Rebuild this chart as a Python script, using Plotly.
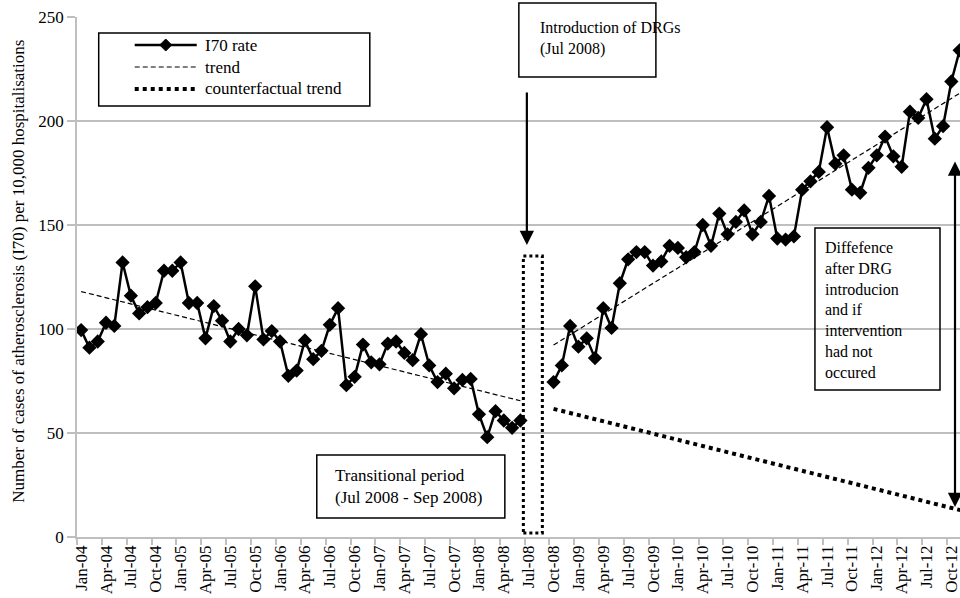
import plotly.graph_objects as go

# ---------------- data ----------------
MONTH_NAMES = ["Jan", "Feb", "Mar", "Apr", "May", "Jun", "Jul", "Aug", "Sep", "Oct", "Nov", "Dec"]
YEARS = ["04", "05", "06", "07", "08", "09", "10", "11", "12"]
month_labels = [f"{m}-{y}" for y in YEARS for m in MONTH_NAMES]  # Jan-04 .. Dec-12

# I70 rate, Jan-04 .. Jun-08 (pre-intervention)
rate_pre = [99.5, 91, 94, 103, 101.5, 132, 116, 107.5, 110.5, 112.5, 128, 128,
            132, 112.5, 112.5, 95.5, 111, 104, 94, 100, 97, 120.5, 95, 99,
            94, 77.5, 80, 94.5, 85.5, 89.5, 102, 110, 73, 77, 92.5, 84,
            83, 93, 94, 88.5, 85, 97.5, 82.5, 74.5, 78.5, 71.5, 75.5, 76,
            59, 48, 60.5, 56, 52.5, 56]
# transitional period Jul-08 .. Sep-08 (no values)
rate_transition = [None, None, None]
# I70 rate, Oct-08 .. Nov-12 (post-intervention)
rate_post = [74.5, 82.5, 101.5,
             91.5, 95.5, 86, 110, 100.5, 122, 133.5, 137, 137, 130.5, 132.5, 140,
             139, 134.5, 137, 150, 140, 155.5, 145.5, 151.5, 157, 145.5, 151.5, 164,
             143.5, 143, 144.5, 167, 171, 175.5, 197, 179.5, 183.5, 167, 165.5, 177.5,
             183.5, 192.5, 183, 178, 204.5, 201.5, 210.5, 191.5, 197.5, 219, 234]
rate = rate_pre + rate_transition + rate_post
rate_months = list(range(len(rate)))

trend_pre_months = [0, 53]
trend_pre_values = [118, 65.5]
trend_post_months = [57, 107]
trend_post_values = [92.3, 215.8]
cf_months = [57, 107]
cf_values = [61.6, 12]

tick_months = list(range(0, 106, 3))
tick_labels = [month_labels[i] for i in tick_months]
y_ticks = [0, 50, 100, 150, 200, 250]

legend_names = ["I70 rate", "trend", "counterfactual trend"]

# ---------------- layout helpers (page pixel coords) ----------------
W, H = 960, 598
L, R, T, B = 77.3, 960, 17, 537          # plot area in pixels
PW, PH = R - L, B - T
MONTH_PX = 8.285


def px(xp):
    return (xp - L) / PW


def py(yp):
    return (B - yp) / PH


FONT = "Liberation Serif"
GRID = "#bfbfbf"

fig = go.Figure()

fig.add_trace(go.Scatter(
    x=rate_months, y=rate, name=legend_names[0], mode="lines+markers",
    line=dict(color="black", width=2.5),
    marker=dict(symbol="diamond", size=11, color="black"),
    connectgaps=False,
))
fig.add_trace(go.Scatter(
    x=trend_pre_months, y=trend_pre_values, name=legend_names[1], mode="lines",
    line=dict(color="black", width=1.2, dash="5px,3px"),
))
fig.add_trace(go.Scatter(
    x=trend_post_months, y=trend_post_values, name=legend_names[1], mode="lines",
    line=dict(color="black", width=1.2, dash="5px,3px"),
))
fig.add_trace(go.Scatter(
    x=cf_months, y=cf_values, name=legend_names[2], mode="lines",
    line=dict(color="black", width=4, dash="dot"),
))

shapes = []
annotations = []

# ----- legend (drawn as frame + samples + text) -----
shapes.append(dict(type="rect", xref="paper", yref="paper",
                   x0=px(99), x1=px(370), y0=py(106), y1=py(33),
                   line=dict(color="black", width=1.5)))
row_y = [45, 67, 89]
styles = [dict(color="black", width=2.5),
          dict(color="black", width=1.2, dash="5px,3px"),
          dict(color="black", width=4, dash="dot")]
for name, yy, st in zip(legend_names, row_y, styles):
    shapes.append(dict(type="line", xref="paper", yref="paper",
                       x0=px(135), x1=px(197), y0=py(yy), y1=py(yy), line=st))
    annotations.append(dict(xref="paper", yref="paper", x=px(203), y=py(yy),
                            xanchor="left", yanchor="middle", showarrow=False, text=name,
                            font=dict(family=FONT, size=17, color="black")))
# diamond of the first legend sample
cx, cy, hs = 166, 45, 6
shapes.append(dict(type="path", xref="paper", yref="paper",
                   path=(f"M {px(cx)},{py(cy - hs)} L {px(cx + hs)},{py(cy)} "
                         f"L {px(cx)},{py(cy + hs)} L {px(cx - hs)},{py(cy)} Z"),
                   fillcolor="black", line=dict(color="black", width=1)))

# ----- Introduction of DRGs box -----
shapes.append(dict(type="rect", xref="paper", yref="paper",
                   x0=px(519), x1=px(656), y0=py(77), y1=py(3),
                   line=dict(color="black", width=1.5)))
annotations.append(dict(xref="paper", yref="paper", x=px(538), y=py(39),
                        xanchor="left", yanchor="middle", align="left", showarrow=False,
                        text="Introduction of DRGs<br>(Jul 2008)",
                        font=dict(family=FONT, size=16, color="black")))
# DRG arrow (down)
annotations.append(dict(x=53.78, y=140.4, ax=53.78, ay=214.4, axref="x", ayref="y",
                        xref="x", yref="y", text="", showarrow=True,
                        arrowhead=2, arrowsize=1.3, arrowwidth=2.2, arrowcolor="black"))

# ----- transitional period box -----
shapes.append(dict(type="rect", xref="paper", yref="paper",
                   x0=px(317), x1=px(505), y0=py(518), y1=py(455),
                   line=dict(color="black", width=1.5)))
annotations.append(dict(xref="paper", yref="paper", x=px(333), y=py(486),
                        xanchor="left", yanchor="middle", align="left", showarrow=False,
                        text="Transitional period<br>(Jul 2008 - Sep 2008)",
                        font=dict(family=FONT, size=17, color="black")))
# dotted transitional rectangle
shapes.append(dict(type="rect", xref="paper", yref="paper",
                   x0=px(523.5), x1=px(542.5), y0=py(533), y1=py(256),
                   line=dict(color="black", width=3, dash="dot")))

# ----- difference box -----
shapes.append(dict(type="rect", xref="paper", yref="paper",
                   x0=px(815), x1=px(940), y0=py(390), y1=py(228),
                   line=dict(color="black", width=1.5)))
annotations.append(dict(xref="paper", yref="paper", x=px(823), y=py(310),
                        xanchor="left", yanchor="middle", align="left", showarrow=False,
                        text="Diffefence<br>after DRG<br>introducion<br>and if<br>intervention<br>had not<br>occured",
                        font=dict(family=FONT, size=16, color="black")))
# double arrow
annotations.append(dict(x=105.44, y=14.4, ax=105.44, ay=181.3, axref="x", ayref="y",
                        xref="x", yref="y", text="", showarrow=True, arrowside="end+start",
                        arrowhead=2, arrowsize=1.3, arrowwidth=2.2, arrowcolor="black"))

# ----- y axis title -----
annotations.append(dict(xref="paper", yref="paper", x=0, y=0.5, xshift=18 - L, yshift=6,
                        xanchor="center", yanchor="middle", textangle=-90, showarrow=False,
                        text="Number of cases of atherosclerosis (I70) per 10,000 hospitalisations",
                        font=dict(family=FONT, size=17, color="black")))

fig.update_layout(
    template="none",
    width=W, height=H,
    margin=dict(l=L, r=W - R, t=T, b=H - B, autoexpand=False),
    paper_bgcolor="white", plot_bgcolor="white",
    font=dict(family=FONT, size=17, color="black"),
    showlegend=False,
    shapes=shapes, annotations=annotations,
    xaxis=dict(range=[-0.5, PW / MONTH_PX - 0.5],
               tickmode="array", tickvals=tick_months, ticktext=tick_labels,
               tickangle=-90, ticks="", showgrid=False, zeroline=False,
               showline=True, linecolor=GRID, linewidth=1.5, automargin=False,
               ticklabeloverflow="allow",
               tickfont=dict(family=FONT, size=17, color="black"),
               minor=dict(tick0=-0.5, dtick=3, ticks="outside", ticklen=6,
                          tickcolor=GRID, tickwidth=1.5, showgrid=False)),
    yaxis=dict(range=[0, 250], tickmode="array", tickvals=y_ticks,
               showgrid=True, gridcolor=GRID, gridwidth=2, zeroline=False,
               showline=True, linecolor=GRID, linewidth=1.5, automargin=False,
               ticklabeloverflow="allow",
               ticks="outside", ticklen=8, tickcolor=GRID, tickwidth=1.5,
               tickfont=dict(family=FONT, size=17, color="black")),
)

fig.write_html("out.html", config={"displayModeBar": False},
               post_script="document.body.style.margin='0';"
               "document.body.style.overflow='hidden';")
